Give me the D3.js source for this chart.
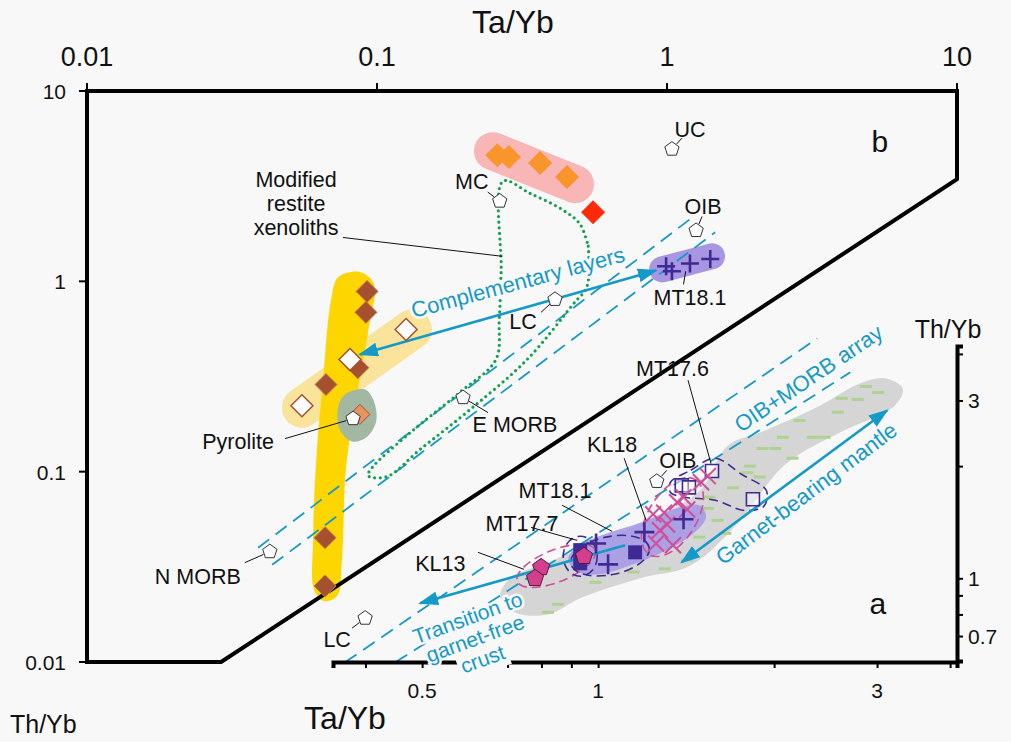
<!DOCTYPE html>
<html>
<head>
<meta charset="utf-8">
<script src="https://cdn.jsdelivr.net/npm/d3@7"></script>
<style>
  body { margin: 0; background: #f8f8f8; }
  svg { display: block; }
  text { font-family: "Liberation Sans", Arial, sans-serif; fill: #111; }
</style>
</head>
<body>
<svg id="chart" width="1011" height="742"></svg>
<script>
// ---------- ticks ----------
const xTicksB = [0.01, 0.1, 1, 10];
const yTicksB = [0.01, 0.1, 1, 10];
const xTicksA = [0.4, 0.5, 0.6, 0.7, 0.8, 0.9, 1, 2, 3, 4];
const xLabelsA = [0.5, 1, 3];
const yTicksA = [0.6, 0.7, 0.8, 0.9, 1, 2, 3, 4];
const yLabelsA = [0.7, 1, 3];

// ---------- panel b data (Ta/Yb, Th/Yb) ----------
const frameB = [[0.01, 10], [10, 10], [10, 3.44], [0.029, 0.01], [0.01, 0.01]];
const restiteBrown = [[0.0924, 0.885], [0.0916, 0.687], [0.0667, 0.287], [0.0859, 0.352], [0.0662, 0.045], [0.0662, 0.0251]];
const restiteWhite = [[0.126, 0.558], [0.0807, 0.388], [0.0551, 0.222]];
const pyroliteDiamond = [[0.0873, 0.2]];
const mcDiamonds = [[0.26, 4.6], [0.285, 4.5], [0.365, 4.18], [0.452, 3.53]];
const redDiamond = [[0.556, 2.31]];
const mt181bCrosses = [[0.993, 1.2], [1.04, 1.13], [1.2, 1.24], [1.41, 1.31]];

const yellowField = [[0.0735, 1.05], [0.0873, 1.12], [0.0975, 0.97], [0.0935, 0.558], [0.0847, 0.239], [0.0781, 0.1026],
  [0.0757, 0.0344], [0.0728, 0.0222], [0.0656, 0.0209], [0.0607, 0.0239], [0.0602, 0.0438], [0.0617, 0.1156], [0.0652, 0.305], [0.0695, 0.804]];
const pyroliteField = [[0.0776, 0.254], [0.091, 0.27], [0.0977, 0.233], [0.0993, 0.183], [0.0917, 0.151], [0.082, 0.144], [0.0745, 0.166], [0.0734, 0.217]];
const lightYellowField = [[0.0551, 0.217], [0.132, 0.558]];
const pinkField = [[0.251, 4.83], [0.482, 3.24]];
const mt181bField = [[0.962, 1.156], [1.43, 1.355]];
const restiteDotted = [[0.535, 1.53], [0.530, 0.942], [0.474, 0.757], [0.329, 0.388], [0.2094, 0.212], [0.1406, 0.1306], [0.1082, 0.0942],
  [0.0931, 0.0953], [0.0962, 0.105], [0.130, 0.160], [0.193, 0.261], [0.257, 0.388], [0.264, 0.631], [0.268, 1.156], [0.272, 3.36],
  [0.337, 2.90], [0.434, 2.39], [0.501, 2.0], [0.535, 1.53]];
const arrayB = [[[0.0389, 0.0398], [1.2, 2.12]], [[0.0435, 0.0324], [1.466, 1.81]]];
const complementaryArrow = [[0.916, 1.14], [0.0873, 0.413]];
const restiteLeader = [[0.0763, 1.70], [0.270, 1.354]];

const refB = [
  { name: "UC", x: 1.04, y: 4.95 },
  { name: "OIB", x: 1.26, y: 1.85 },
  { name: "MC", x: 0.265, y: 2.64 },
  { name: "LC", x: 0.411, y: 0.804 },
  { name: "E MORB", x: 0.198, y: 0.245 },
  { name: "N MORB", x: 0.0427, y: 0.038 },
  { name: "Pyrolite", x: 0.0827, y: 0.19 },
  { name: "LC", x: 0.091, y: 0.017 }
];

// ---------- panel a data (Ta/Yb, Th/Yb, enlarged) ----------
const greyField = [[0.680, 0.895], [0.707, 1.0], [0.812, 1.097], [1.008, 1.264], [1.276, 1.475], [1.494, 1.72], [1.668, 2.27], [1.892, 2.46],
  [2.40, 2.91], [2.80, 3.33], [3.09, 3.44], [3.32, 3.23], [3.22, 2.91], [2.59, 2.46], [2.13, 2.07], [1.97, 1.83], [1.75, 1.43],
  [1.436, 1.08], [1.18, 1.0], [0.932, 0.884], [0.821, 0.80], [0.721, 0.81]];
const greenDashes = [[2.61, 3.04], [2.78, 3.02], [2.87, 3.27], [2.07, 2.39], [2.33, 2.39], [2.44, 2.39], [1.91, 2.23], [2.01, 2.23],
  [2.21, 2.65], [1.89, 1.87], [1.82, 2.0], [1.55, 1.65], [1.54, 1.54], [1.60, 1.43], [1.49, 1.29], [1.42, 1.12], [1.30, 1.06],
  [1.80, 1.92], [1.15, 1.04], [0.99, 0.975], [0.713, 0.873], [0.821, 0.811], [0.854, 0.852], [2.57, 2.79], [3.01, 3.15],
  [2.15, 2.10], [1.70, 1.75], [1.65, 1.32]];
const mt181aField = [[0.913, 1.204], [1.008, 1.30], [1.18, 1.41], [1.38, 1.55], [1.49, 1.57], [1.53, 1.46], [1.44, 1.30],
  [1.28, 1.17], [1.13, 1.08], [1.008, 1.025], [0.924, 1.04], [0.889, 1.12]];
const mt176Outline = [[1.33, 1.81], [1.44, 1.95], [1.585, 2.10], [1.76, 1.90], [1.94, 1.72], [1.92, 1.56], [1.78, 1.52],
  [1.585, 1.62], [1.41, 1.65], [1.33, 1.70]];
const groupEllipses = [
  { name: "KL13", x: 0.848, y: 1.08, kind: "kl" },
  { name: "MT17.7", x: 0.932, y: 1.146, kind: "mt" },
  { name: "MT18.1", x: 1.048, y: 1.15, kind: "mt" },
  { name: "KL18", x: 1.34, y: 1.46, kind: "kl" }
];
const kl13Pentagons = [[0.799, 1.07], [0.78, 1.0], [0.946, 1.146]];
const mt177Squares = [[0.932, 1.19], [0.932, 1.097]];
const mt181aSquares = [[1.157, 1.174]];
const mt181aCrosses = [[0.992, 1.24], [1.04, 1.09], [1.20, 1.33], [1.40, 1.44]];
const kl18Crosses = [[1.242, 1.485], [1.276, 1.345], [1.312, 1.395], [1.343, 1.226], [1.256, 1.24], [1.365, 1.60],
  [1.40, 1.65], [1.42, 1.53], [1.50, 1.81], [1.54, 1.88], [1.297, 1.50]];
const mt176Squares = [[1.566, 1.94], [1.39, 1.776], [1.43, 1.754], [1.84, 1.63]];
const arrayA = [[[0.369, 0.595], [2.37, 4.40]], [[0.45, 0.595], [2.70, 3.57]]];
const garnetArrow = [[1.39, 1.104], [3.12, 2.82]];
const transitionArrow = [[1.112, 1.226], [0.496, 0.857]];
const refA = [{ name: "OIB", x: 1.26, y: 1.82 }];
const sampleLabelsA = [
  { name: "MT17.6", text: [1.34, 3.66], from: [1.425, 3.40], to: [1.56, 2.03] },
  { name: "KL18", text: [1.057, 2.29], from: [1.108, 2.10], to: [1.208, 1.43] },
  { name: "MT18.1", text: [0.844, 1.72], from: [0.868, 1.57], to: [1.057, 1.336] },
  { name: "MT17.7", text: [0.741, 1.404], from: [0.768, 1.37], to: [0.921, 1.264] },
  { name: "KL13", text: [0.537, 1.097], from: [0.623, 1.174], to: [0.747, 1.057] }
];

// ---------- layout ----------
const BG = "#f8f8f8";
const CYAN = "#1599c9";
const PURPLE = "#3f2a94";
const PINK = "#cf4f98";
const LABEL_SIZE = 21.5;
const labelOffsets = {
  "UC": [18, -20, 10, -11], "OIB": [7, -24, 6, -14], "MC": [-28, -20, -12, -9], "LC": [-32, 22, -14, 13],
  "E MORB": [52, 27, 25, 15], "N MORB": [-72, 25, -25, 11], "Pyrolite": [-115, 23, -68, 20], "LCa": [-28, 21, -13, 10],
  "OIBa": [21, -21, 10, -11]
};
const ellipseStyle = {
  "KL13": [42, 16, -22], "MT17.7": [17, 20, 0], "MT18.1": [40, 19, -12], "KL18": [44, 24, -58]
};

const svg = d3.select("#chart");
svg.append("rect").attr("width", 1011).attr("height", 742).attr("fill", BG);

const xB = d3.scaleLog().domain([0.01, 10]).range([87, 957]);
const yB = d3.scaleLog().domain([0.01, 10]).range([662, 91]);
const xA = d3.scaleLog().domain([0.352, 4.11]).range([333, 957]);
const yA = d3.scaleLog().domain([0.6, 4.2]).range([661, 346]);

const lineB = d3.line().x(d => xB(d[0])).y(d => yB(d[1]));
const lineA = d3.line().x(d => xA(d[0])).y(d => yA(d[1]));
const blobB = d3.line().x(d => xB(d[0])).y(d => yB(d[1])).curve(d3.curveCatmullRomClosed.alpha(0.5));
const blobA = d3.line().x(d => xA(d[0])).y(d => yA(d[1])).curve(d3.curveCatmullRomClosed.alpha(0.5));

const defs = svg.append("defs");
defs.append("marker").attr("id", "head").attr("viewBox", "0 0 20 14")
  .attr("refX", 18).attr("refY", 7).attr("markerWidth", 20).attr("markerHeight", 14)
  .attr("markerUnits", "userSpaceOnUse").attr("orient", "auto-start-reverse")
  .append("path").attr("d", "M0,0L20,7L0,14Z").attr("fill", CYAN);

function pentagon(r) {
  const pts = d3.range(5).map(i => {
    const a = -Math.PI / 2 + i * 2 * Math.PI / 5;
    return [r * Math.cos(a), r * Math.sin(a)];
  });
  return "M" + pts.map(p => p.join(",")).join("L") + "Z";
}
const diamond = s => `M0,${-s}L${s},0L0,${s}L${-s},0Z`;
const square = s => `M${-s},${-s}H${s}V${s}H${-s}Z`;
const plus = s => `M${-s},0H${s}M0,${-s}V${s}`;
const cross = s => `M${-s},${-s}L${s},${s}M${-s},${s}L${s},${-s}`;

// ---------- panel b fields ----------
const gF = svg.append("g");
gF.append("path").attr("d", lineB(lightYellowField)).attr("stroke", "#fae39a").attr("stroke-width", 40)
  .attr("stroke-linecap", "round").attr("fill", "none");
gF.append("path").attr("d", blobB(yellowField)).attr("fill", "#fdd600");
gF.append("path").attr("d", blobB(pyroliteField)).attr("fill", "#a3b8a2");
gF.append("path").attr("d", lineB(pinkField)).attr("stroke", "#f8b7b6").attr("stroke-width", 38)
  .attr("stroke-linecap", "round").attr("fill", "none");
gF.append("path").attr("d", lineB(mt181bField)).attr("stroke", "#a896e3").attr("stroke-width", 26)
  .attr("stroke-linecap", "round").attr("fill", "none");

// ---------- panel a fields ----------
gF.append("path").attr("d", blobA(greyField)).attr("fill", "#d5d5d5");
gF.selectAll(".gd").data(greenDashes).join("rect")
  .attr("x", d => xA(d[0]) - 6).attr("y", d => yA(d[1]) - 1.5).attr("width", 12).attr("height", 3)
  .attr("fill", "#aed38f");
gF.append("path").attr("d", blobA(mt181aField)).attr("fill", "#a596e6").attr("opacity", 0.85);

// ---------- lines ----------
const gL = svg.append("g").attr("fill", "none");
arrayB.forEach(l => gL.append("path").attr("d", lineB(l)).attr("stroke", CYAN).attr("stroke-width", 1.8).attr("stroke-dasharray", "14 8"));
arrayA.forEach(l => gL.append("path").attr("d", lineA(l)).attr("stroke", CYAN).attr("stroke-width", 1.8).attr("stroke-dasharray", "14 8"));
gL.append("path").attr("d", d3.line().x(d => xB(d[0])).y(d => yB(d[1])).curve(d3.curveCatmullRom)(restiteDotted))
  .attr("stroke", "#12a050").attr("stroke-width", 3.2).attr("stroke-linecap", "round").attr("stroke-dasharray", "0 5.6");

// dashed group outlines (panel a)
gL.append("path").attr("d", blobA(mt176Outline)).attr("stroke", PURPLE).attr("stroke-width", 1.6).attr("stroke-dasharray", "9 5");
groupEllipses.forEach(e => {
  const st = ellipseStyle[e.name];
  gL.append("ellipse")
    .attr("transform", `translate(${xA(e.x)},${yA(e.y)}) rotate(${st[2]})`)
    .attr("rx", st[0]).attr("ry", st[1])
    .attr("stroke", e.kind === "kl" ? PINK : PURPLE).attr("stroke-width", 1.6).attr("stroke-dasharray", "9 5");
});

// arrows
[[complementaryArrow, lineB], [garnetArrow, lineA]].forEach(([a, ln]) =>
  gL.append("path").attr("d", ln(a)).attr("stroke", CYAN).attr("stroke-width", 2.6)
    .attr("marker-start", "url(#head)").attr("marker-end", "url(#head)"));
gL.append("path").attr("d", lineA(transitionArrow)).attr("stroke", CYAN).attr("stroke-width", 2.6)
  .attr("marker-end", "url(#head)");
gL.append("path").attr("d", lineB(restiteLeader)).attr("stroke", "#111").attr("stroke-width", 1);

// ---------- frame and axes ----------
const gAx = svg.append("g").attr("stroke", "#000").attr("fill", "none");
gAx.append("path").attr("d", lineB(frameB) + "Z").attr("stroke-width", 4).attr("stroke-linejoin", "miter");
xTicksB.forEach(t => gAx.append("line").attr("x1", xB(t)).attr("x2", xB(t)).attr("y1", 91).attr("y2", 83).attr("stroke-width", 2));
yTicksB.forEach(t => gAx.append("line").attr("x1", 87).attr("x2", 79).attr("y1", yB(t)).attr("y2", yB(t)).attr("stroke-width", 2));

const axB = svg.append("g").attr("transform", "translate(0,662)")
  .call(d3.axisBottom(xA).tickValues(xTicksA).tickSize(6).tickFormat(""));
axB.select(".domain").attr("stroke-width", 4).attr("stroke", "#000");
axB.selectAll(".tick line").attr("stroke-width", 2);
const axR = svg.append("g").attr("transform", "translate(957,0)")
  .call(d3.axisRight(yA).tickValues(yTicksA).tickSize(6).tickFormat(""));
axR.select(".domain").attr("stroke-width", 4).attr("stroke", "#000");
axR.selectAll(".tick line").attr("stroke-width", 2);

// tick labels
const tl = svg.append("g");
tl.selectAll(".tx").data(xTicksB).join("text").attr("x", d => xB(d)).attr("y", 66)
  .attr("text-anchor", "middle").style("font-family", "'Liberation Sans Narrow', 'Liberation Sans', sans-serif")
  .attr("font-size", 27).text(d => d);
tl.selectAll(".ty").data(yTicksB).join("text").attr("x", 66).attr("y", d => yB(d) + 8)
  .attr("text-anchor", "end").attr("font-size", 21).text(d => d);
tl.selectAll(".ax").data(xLabelsA).join("text").attr("x", d => xA(d)).attr("y", 698)
  .attr("text-anchor", "middle").attr("font-size", 21).text(d => d);
tl.selectAll(".ay").data(yLabelsA).join("text").attr("x", 968).attr("y", d => yA(d) + 8)
  .attr("font-size", 21).text(d => d);

const titleFont = "'Liberation Sans Narrow', 'Liberation Sans', sans-serif";
svg.append("text").attr("x", 513).attr("y", 33).attr("text-anchor", "middle").attr("font-size", 32)
  .style("font-family", titleFont).text("Ta/Yb");
svg.append("text").attr("x", 345).attr("y", 729).attr("text-anchor", "middle").attr("font-size", 32)
  .style("font-family", titleFont).text("Ta/Yb");
svg.append("text").attr("x", 10).attr("y", 733).attr("font-size", 25).text("Th/Yb");
svg.append("text").attr("x", 948).attr("y", 338).attr("text-anchor", "middle").attr("font-size", 25).text("Th/Yb");
svg.append("text").attr("x", xB(5.42)).attr("y", yB(5.39) + 10).attr("text-anchor", "middle").attr("font-size", 30).text("b");
svg.append("text").attr("x", xA(3.01)).attr("y", yA(0.852) + 10).attr("text-anchor", "middle").attr("font-size", 30).text("a");

// ---------- markers ----------
const gM = svg.append("g");
function drawSyms(data, sx, sy, d, attrs) {
  const sel = gM.selectAll(null).data(data).join("path")
    .attr("transform", p => `translate(${sx(p[0])},${sy(p[1])})`).attr("d", d);
  Object.entries(attrs).forEach(([k, v]) => sel.attr(k, v));
}
drawSyms(restiteBrown, xB, yB, diamond(11), { fill: "#a5502f", stroke: "#c27a55", "stroke-width": 1 });
drawSyms(restiteWhite, xB, yB, diamond(11), { fill: "#fff", stroke: "#a5502f", "stroke-width": 1.5 });
drawSyms(pyroliteDiamond, xB, yB, diamond(10), { fill: "#e8935e", stroke: "#a5502f", "stroke-width": 1 });
drawSyms(mcDiamonds, xB, yB, diamond(12), { fill: "#f8962c" });
drawSyms(redDiamond, xB, yB, diamond(12), { fill: "#fe2a0a" });
drawSyms(mt181bCrosses, xB, yB, plus(9), { stroke: PURPLE, "stroke-width": 2.6, fill: "none" });

drawSyms(mt176Squares, xA, yA, square(6.5), { fill: "rgba(255,255,255,0.45)", stroke: PURPLE, "stroke-width": 1.6 });
drawSyms(kl18Crosses, xA, yA, cross(8), { stroke: PINK, "stroke-width": 2, fill: "none" });
drawSyms(mt181aCrosses, xA, yA, plus(10), { stroke: PURPLE, "stroke-width": 2.6, fill: "none" });
drawSyms(mt177Squares, xA, yA, square(7), { fill: PURPLE });
drawSyms(mt181aSquares, xA, yA, square(7), { fill: PURPLE });
drawSyms(kl13Pentagons, xA, yA, pentagon(9), { fill: "#d2408d", stroke: "#5a1840", "stroke-width": 1 });

// reference compositions (pentagons) with leaders
function refLabel(list, sx, sy, keyFn) {
  list.forEach(r => {
    const o = labelOffsets[keyFn(r)];
    const px = sx(r.x), py = sy(r.y);
    const len = Math.hypot(o[2], o[3]);
    gM.append("line").attr("x1", px + o[2]).attr("y1", py + o[3])
      .attr("x2", px + o[2] / len * 7).attr("y2", py + o[3] / len * 7).attr("stroke", "#111").attr("stroke-width", 1);
    gM.append("path").attr("transform", `translate(${px},${py})`).attr("d", pentagon(7.5))
      .attr("fill", "#fff").attr("stroke", "#333").attr("stroke-width", 1);
    gM.append("text").attr("x", px + o[0]).attr("y", py + o[1]).attr("dy", "0.35em")
      .attr("text-anchor", "middle").attr("font-size", LABEL_SIZE).text(r.name);
  });
}
refLabel(refB, xB, yB, r => (r.name === "LC" && r.y < 0.05) ? "LCa" : r.name);
refLabel(refA, xA, yA, r => r.name + "a");

// sample labels (panel a)
sampleLabelsA.forEach(s => {
  gM.append("line").attr("x1", xA(s.from[0])).attr("y1", yA(s.from[1]))
    .attr("x2", xA(s.to[0])).attr("y2", yA(s.to[1])).attr("stroke", "#111").attr("stroke-width", 1);
  gM.append("text").attr("x", xA(s.text[0])).attr("y", yA(s.text[1])).attr("dy", "0.35em")
    .attr("text-anchor", "middle").attr("font-size", LABEL_SIZE).text(s.name);
});
gM.append("line").attr("x1", xB(1.14)).attr("y1", yB(0.964)).attr("x2", xB(1.16)).attr("y2", yB(1.13))
  .attr("stroke", "#111").attr("stroke-width", 1);
gM.append("text").attr("x", xB(1.2)).attr("y", yB(0.824)).attr("dy", "0.35em").attr("text-anchor", "middle")
  .attr("font-size", LABEL_SIZE).text("MT18.1");

// restite label
const rt = gM.append("text").attr("text-anchor", "middle").attr("font-size", LABEL_SIZE);
["Modified", "restite", "xenoliths"].forEach((w, i) =>
  rt.append("tspan").attr("x", xB(0.0526)).attr("y", yB(2.57) + (i - 1) * 24).attr("dy", "0.35em").text(w));

// cyan annotations
function cyanText(lines, x, y, angle, size, boxLast) {
  const g = gM.append("g").attr("transform", `translate(${x},${y}) rotate(${angle})`);
  lines.forEach((t, i) => {
    const txt = g.append("text").attr("x", 0).attr("y", (i - (lines.length - 1) / 2) * 22).attr("dy", "0.35em")
      .attr("text-anchor", "middle").attr("font-size", size)
      .attr("stroke", BG).attr("stroke-width", 5).attr("paint-order", "stroke")
      .style("fill", CYAN).text(t);
    if (boxLast && i === lines.length - 1) {
      // the last word sits on a plain box that breaks the axis line, as in the source figure
      const bb = txt.node().getBBox();
      g.insert("rect", "text").attr("x", bb.x - 3).attr("y", bb.y - 1)
        .attr("width", bb.width + 6).attr("height", bb.height + 4).attr("fill", BG);
    }
  });
  return g;
}
cyanText(["Complementary layers"], xB(0.306), yB(0.99), -15, 22);
cyanText(["OIB+MORB array"], xA(2.29), yA(3.44), -34, 22);
cyanText(["Garnet-bearing mantle"], xA(2.27), yA(1.69), -37, 22);
cyanText(["Transition to", "garnet-free", "crust"], xA(0.616), yA(0.69), -20, 21, true);
</script>
</body>
</html>
